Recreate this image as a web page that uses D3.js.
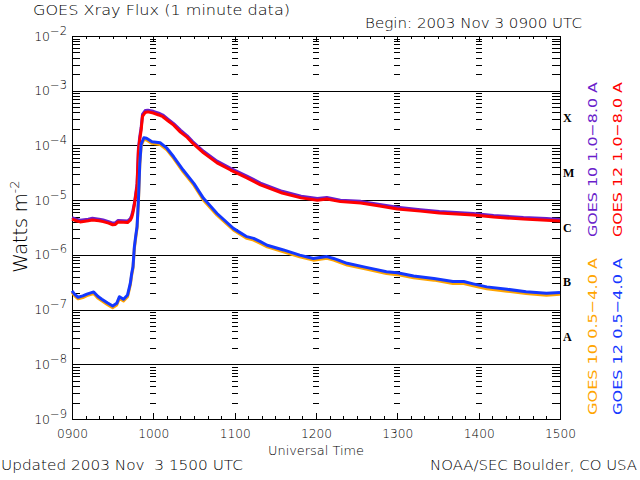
<!DOCTYPE html>
<html><head><meta charset="utf-8">
<script src="https://cdn.jsdelivr.net/npm/d3@7"></script>
<style>
body{margin:0;background:#fff}
svg text{font-family:"DejaVu Sans",sans-serif;font-weight:200;fill:#000}
</style>
</head><body>
<svg id="chart" width="640" height="480"></svg>
<script>
// ---- data (minutes after 0900 UTC, flux in W m^-2) ----
const tLong = [0,3,6,12,15,20,23,27,30,32,34,38,41,43,44,45,46,47,48,49,50,51,52,54,56,60,64,67,71,75,80,85,89,97,107,117,129,139,155,169,181,188,198,213,227,240,257,271,296,311,333,350,360];
const goes12Long = [4.5e-6,4.2e-6,4.0e-6,4.2e-6,4.35e-6,4.2e-6,4.05e-6,3.8e-6,3.55e-6,3.6e-6,4.0e-6,3.95e-6,3.9e-6,4.3e-6,4.8e-6,6.0e-6,8.2e-6,1.2e-5,1.8e-5,8.0e-5,1.3e-4,1.9e-4,3.4e-4,4.0e-4,4.1e-4,3.9e-4,3.6e-4,3.35e-4,2.8e-4,2.35e-4,1.75e-4,1.4e-4,1.1e-4,7.3e-5,4.8e-5,3.55e-5,2.55e-5,1.9e-5,1.35e-5,1.1e-5,1.0e-5,1.05e-5,9.4e-6,8.9e-6,7.8e-6,6.9e-6,6.3e-6,5.8e-6,5.35e-6,4.9e-6,4.5e-6,4.3e-6,4.15e-6];
const goes10Long = [4.8e-6,4.5e-6,4.3e-6,4.5e-6,4.65e-6,4.5e-6,4.35e-6,4.05e-6,3.8e-6,3.85e-6,4.25e-6,4.2e-6,4.15e-6,4.6e-6,5.2e-6,6.5e-6,8.8e-6,1.3e-5,2.0e-5,8.8e-5,1.45e-4,2.1e-4,3.7e-4,4.35e-4,4.4e-4,4.2e-4,3.9e-4,3.6e-4,3.0e-4,2.5e-4,1.9e-4,1.5e-4,1.18e-4,7.8e-5,5.15e-5,3.8e-5,2.75e-5,2.05e-5,1.45e-5,1.18e-5,1.07e-5,1.12e-5,1.0e-5,9.5e-6,8.35e-6,7.4e-6,6.7e-6,6.2e-6,5.7e-6,5.25e-6,4.8e-6,4.6e-6,4.45e-6];
const tShort = [0,2,4.5,8,11,16,19,22,26,30,33,35,38,41,43,44,45,46,47,48,49,50,51,53,55,59,65,70,75,82,90,97,107,119,124,129,134,139,144,156,168,178,188,193,203,217,232,240,252,267,281,289,296,306,321,335,350,360];
const goes12Short = [2.2e-7,1.9e-7,1.68e-7,1.78e-7,1.92e-7,2.1e-7,1.75e-7,1.55e-7,1.33e-7,1.16e-7,1.3e-7,1.72e-7,1.54e-7,1.85e-7,3.0e-7,4.5e-7,6.1e-7,1.4e-6,2.2e-6,3.3e-6,1.0e-5,4.7e-5,1.05e-4,1.38e-4,1.35e-4,1.17e-4,1.12e-4,8.9e-5,6.2e-5,3.55e-5,2.0e-5,1.08e-5,5.7e-6,3.05e-6,2.55e-6,2.15e-6,2.0e-6,1.74e-6,1.5e-6,1.23e-6,9.9e-7,8.6e-7,9.3e-7,8.6e-7,7.0e-7,5.9e-7,4.9e-7,4.7e-7,4.1e-7,3.7e-7,3.25e-7,3.25e-7,2.95e-7,2.6e-7,2.35e-7,2.12e-7,1.98e-7,2.05e-7];
const goes10Short = [2.08e-7,1.78e-7,1.57e-7,1.66e-7,1.8e-7,1.97e-7,1.63e-7,1.45e-7,1.24e-7,1.08e-7,1.21e-7,1.6e-7,1.44e-7,1.72e-7,2.8e-7,4.2e-7,5.7e-7,1.3e-6,2.05e-6,3.1e-6,9.3e-6,4.4e-5,9.8e-5,1.29e-4,1.26e-4,1.09e-4,1.04e-4,8.3e-5,5.8e-5,3.3e-5,1.86e-5,1.0e-5,5.3e-6,2.85e-6,2.38e-6,2.0e-6,1.86e-6,1.62e-6,1.4e-6,1.14e-6,9.2e-7,8.0e-7,8.65e-7,8.0e-7,6.5e-7,5.5e-7,4.55e-7,4.35e-7,3.8e-7,3.45e-7,3.0e-7,3.0e-7,2.72e-7,2.4e-7,2.17e-7,1.96e-7,1.83e-7,1.9e-7];
const hourTicks = [0,60,120,180,240,300,360];
const hourLabels = ["0900","1000","1100","1200","1300","1400","1500"];
const decadeExps = [-2,-3,-4,-5,-6,-7,-8,-9];
const flareClasses = ["X","M","C","B","A"];
const flareClassExps = [-4,-5,-6,-7,-8];
const seriesLabels = ["GOES 10 1.0\u22128.0 A","GOES 12 1.0\u22128.0 A","GOES 10 0.5\u22124.0 A","GOES 12 0.5\u22124.0 A"];
const seriesColors = ["#6a1ecb","#ff0000","#ffa500","#1438ff"];

// ---- layout ----
const L=72,R=560,T=36,B=419;
const svg=d3.select("#chart");
const x=d3.scaleLinear().domain([0,360]).range([L,R]);
const y=d3.scaleLog().domain([1e-9,1e-2]).range([B,T]);
const py=v=>Math.round(y(v))+0.5;

const tenMin=d3.range(0,361,10).filter(d=>d%60!==0);
const minor=[];
for(let e=-9;e<-2;e++) for(let m=2;m<=9;m++) minor.push(m*Math.pow(10,e));

const g=svg.append("g").attr("shape-rendering","crispEdges");
g.selectAll("line.grid").data(decadeExps.filter(e=>e<-2&&e>-9)).join("line")
 .attr("x1",L).attr("x2",R).attr("y1",e=>py(Math.pow(10,e))).attr("y2",e=>py(Math.pow(10,e)))
 .attr("stroke","#000").attr("stroke-width",1);

hourTicks.filter(h=>h>0&&h<360).forEach(h=>{
  g.append("g").selectAll("line").data(minor).join("line")
   .attr("x1",x(h)-3).attr("x2",x(h)+3).attr("y1",d=>py(d)).attr("y2",d=>py(d))
   .attr("stroke","#000").attr("stroke-width",1);
});

function styleAxis(sel){sel.select(".domain").remove();sel.selectAll("line").attr("stroke","#000");}
g.append("g").attr("transform",`translate(${L},0)`).call(d3.axisLeft(y).tickValues(minor).tickSize(-8).tickFormat("")).call(styleAxis);
g.append("g").attr("transform",`translate(${R},0)`).call(d3.axisRight(y).tickValues(minor).tickSize(-8).tickFormat("")).call(styleAxis);
g.append("g").attr("transform",`translate(0,${B})`).call(d3.axisBottom(x).tickValues(tenMin).tickSize(-3).tickFormat("")).call(styleAxis);
const bx=g.append("g").attr("transform",`translate(0,${B})`).call(d3.axisBottom(x).tickValues(hourTicks).tickSize(-6).tickPadding(10).tickFormat((d,i)=>hourLabels[i])).call(styleAxis);
bx.selectAll("text").attr("font-size",12).attr("font-family","DejaVu Sans").attr("font-weight",200).attr("textLength",31).attr("lengthAdjust","spacingAndGlyphs");
g.append("g").attr("transform",`translate(0,${T})`).call(d3.axisTop(x).tickValues(tenMin).tickSize(-3).tickFormat("")).call(styleAxis);
g.append("g").attr("transform",`translate(0,${T})`).call(d3.axisTop(x).tickValues(hourTicks).tickSize(-6).tickFormat("")).call(styleAxis);

g.append("rect").attr("x",L+0.5).attr("y",T+0.5).attr("width",R-L).attr("height",B-T).attr("fill","none").attr("stroke","#000").attr("stroke-width",1);

decadeExps.forEach(e=>{
  const t=svg.append("text").attr("x",67).attr("y",y(Math.pow(10,e))+4.5).attr("text-anchor","end").attr("font-size",12.5);
  t.append("tspan").text("10");
  t.append("tspan").attr("dy",-6).attr("font-size",11.5).text("\u2212"+(-e));
});

flareClasses.forEach((c,i)=>{
  const e=flareClassExps[i];
  svg.append("text").attr("x",563).attr("y",y(Math.pow(10,e+0.5))+4)
   .style("font-family","'Liberation Serif',serif").style("font-weight","bold").attr("font-size",12).text(c);
});

const line=d3.line().x(d=>x(d[0])).y(d=>y(d[1]));
const series=[[tLong,goes10Long],[tLong,goes12Long],[tShort,goes10Short],[tShort,goes12Short]];
series.forEach((s,i)=>{
  svg.append("path").datum(s[0].map((t,j)=>[t,s[1][j]])).attr("d",line)
   .attr("fill","none").attr("stroke",seriesColors[i]).attr("stroke-width",3).attr("stroke-linejoin","round");
});

const legPos=[[596.5,237,155],[621.5,237,155],[596.5,415,157],[621.5,415,157]];
seriesLabels.forEach((s,i)=>{
  const p=legPos[i];
  svg.append("text").attr("transform",`translate(${p[0]},${p[1]}) rotate(-90)`)
   .attr("font-size",13).attr("textLength",p[2]).attr("lengthAdjust","spacingAndGlyphs")
   .style("font-weight","normal").style("fill",seriesColors[i]).text(s);
});

svg.append("text").attr("x",33).attr("y",14.5).attr("font-size",14).attr("textLength",257).attr("lengthAdjust","spacingAndGlyphs").text("GOES Xray Flux (1 minute data)");
svg.append("text").attr("x",365).attr("y",28).attr("font-size",14).attr("textLength",217).attr("lengthAdjust","spacingAndGlyphs").text("Begin: 2003 Nov 3 0900 UTC");
svg.append("text").attr("x",268).attr("y",455).attr("font-size",12).attr("textLength",96).attr("lengthAdjust","spacingAndGlyphs").text("Universal Time");
svg.append("text").attr("x",1).attr("y",470).attr("font-size",14).attr("textLength",242).attr("lengthAdjust","spacingAndGlyphs").style("white-space","pre").text("Updated 2003 Nov  3 1500 UTC");
svg.append("text").attr("x",430).attr("y",470).attr("font-size",14).attr("textLength",207).attr("lengthAdjust","spacingAndGlyphs").text("NOAA/SEC Boulder, CO USA");

const yt=svg.append("text").attr("transform","translate(27,273) rotate(-90)").attr("font-size",20);
yt.append("tspan").attr("textLength",80).text("Watts m");
yt.append("tspan").attr("dy",-8).attr("font-size",13).text("-2");
</script>
</body></html>
